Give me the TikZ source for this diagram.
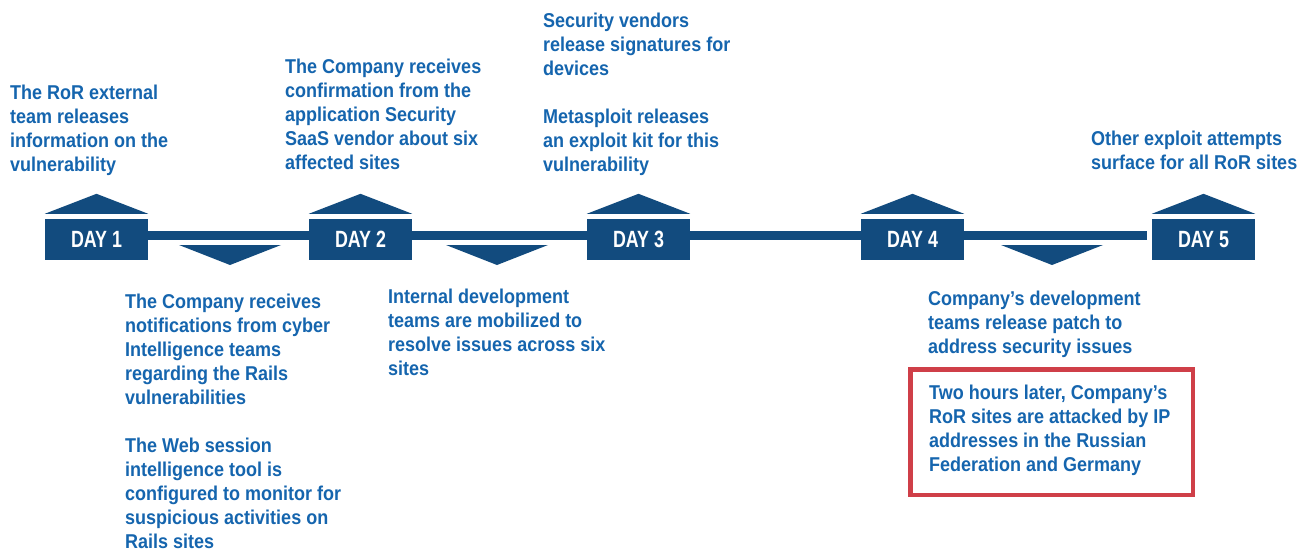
\documentclass[tikz,border=0pt]{standalone}
\usepackage{fontspec}
\setmainfont{Liberation Sans}
\newfontfamily\bodyfont[FakeStretch=0.9]{Liberation Sans}
\newfontfamily\dayfont[FakeStretch=0.76]{Liberation Sans}
\definecolor{darkblue}{HTML}{124B7E}
\definecolor{txtblue}{HTML}{1565AE}
\definecolor{alertred}{HTML}{CF3F48}
\begin{document}
\begin{tikzpicture}[x=1pt,y=-1pt,
  daybox/.style={fill=darkblue,draw=none,minimum width=103pt,minimum height=41pt,inner sep=0pt,
    text=white,font=\dayfont\bfseries\fontsize{23.5}{26}\selectfont},
  desc/.style={anchor=base west,inner sep=0pt,align=left,text=txtblue,
    font=\bodyfont\bfseries\fontsize{20}{24}\selectfont},
  marker/.style={fill=darkblue,draw=none}]
\useasboundingbox (0,0) rectangle (1311,552);
% timeline end
\coordinate (lineend) at (1147,235.5);
% day boxes
\node[daybox] (d1) at (96.5,239.5) {DAY 1};
\node[daybox] (d2) at (360.5,239.5) {DAY 2};
\node[daybox] (d3) at (638.5,239.5) {DAY 3};
\node[daybox] (d4) at (912.5,239.5) {DAY 4};
\node[daybox] (d5) at (1203.5,239.5) {DAY 5};
% timeline
\draw[darkblue,line width=9pt] (d1.east |- lineend) -- (d2.west |- lineend);
\draw[darkblue,line width=9pt] (d2.east |- lineend) -- (d3.west |- lineend);
\draw[darkblue,line width=9pt] (d3.east |- lineend) -- (d4.west |- lineend);
\draw[darkblue,line width=9pt] (d4.east |- lineend) -- (lineend);
% up triangles
\foreach \n in {d1,d2,d3,d4,d5}{
  \fill[marker] ([yshift=5pt]\n.north west) -- ([yshift=25pt]\n.north) -- ([yshift=5pt]\n.north east) -- cycle;
}
% down triangles
\foreach \c in {230,497,1052}{
  \fill[marker] (\c-51,245) -- (\c+51,245) -- (\c,265) -- cycle;
}
% top texts (anchored at last baseline)
\node[desc] (t1) at (10,171) {The RoR external\\team releases\\information on the\\vulnerability};
\node[desc] (t2) at (285,169) {The Company receives\\confirmation from the\\application Security\\SaaS vendor about six\\affected sites};
\node[desc] (t3) at (543,171) {Security vendors\\release signatures for\\devices\\[24pt]Metasploit releases\\an exploit kit for this\\vulnerability};
\node[desc] (t5) at (1091,169) {Other exploit attempts\\surface for all RoR sites};
% bottom texts
\node[desc] (b1) at (125,548) {The Company receives\\notifications from cyber\\Intelligence teams\\regarding the Rails\\vulnerabilities\\[24pt]The Web session\\intelligence tool is\\configured to monitor for\\suspicious activities on\\Rails sites};
\node[desc] (b2) at (388,375) {Internal development\\teams are mobilized to\\resolve issues across six\\sites};
\node[desc] (b4) at (928,353) {Company’s development\\teams release patch to\\address security issues};
% red box
\draw[alertred,line width=4.5pt] (910.25,369.25) rectangle (1192.75,494.75);
\node[desc] (r1) at (929,471) {Two hours later, Company’s\\RoR sites are attacked by IP\\addresses in the Russian\\Federation and Germany};
\end{tikzpicture}
\end{document}
